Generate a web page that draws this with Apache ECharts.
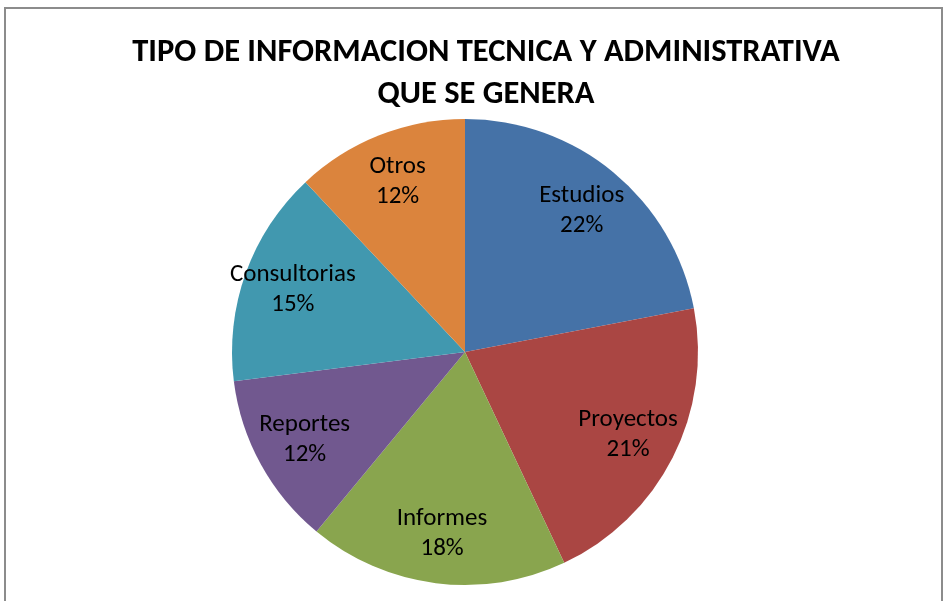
<!DOCTYPE html>
<html>
<head>
<meta charset="utf-8">
<script src="https://cdn.jsdelivr.net/npm/echarts@6/dist/echarts.min.js"></script>
<style>
  html, body { margin: 0; padding: 0; background: #fff; }
  #main { width: 943px; height: 601px; }
</style>
</head>
<body>
<div id="main"></div>
<script>
// tipos de informacion (orden de las rebanadas, en sentido horario desde arriba)
var categorias = ['Estudios', 'Proyectos', 'Informes', 'Reportes', 'Consultorias', 'Otros'];
var porcentajes = [22, 21, 18, 12, 15, 12];
var colores = ['#4572A7', '#AA4643', '#89A54E', '#71588F', '#4198AF', '#DB843D'];

var datos = categorias.map(function (c, i) {
  return { name: c, value: porcentajes[i], itemStyle: { color: colores[i] } };
});

var fuente = 'Carlito, "Liberation Sans Narrow", "Open Sans", sans-serif';

var myChart = echarts.init(document.getElementById('main'));
myChart.setOption({
  animation: false,
  title: {
    text: 'TIPO DE INFORMACION TECNICA Y ADMINISTRATIVA\nQUE SE GENERA',
    left: 481,
    textAlign: 'center',
    top: 27,
    textStyle: {
      fontFamily: fuente,
      fontWeight: 'bold',
      fontSize: 32.5,
      lineHeight: 42,
      color: '#000'
    }
  },
  graphic: [{
    type: 'rect',
    shape: { x: 5, y: 8, width: 937, height: 600 },
    style: { fill: 'none', stroke: '#8c8c8c', lineWidth: 2 },
    silent: true
  }],
  series: [
    {
      // rebanadas
      type: 'pie',
      center: [465, 352],
      radius: [0, 233],
      startAngle: 90,
      clockwise: true,
      label: { show: false },
      labelLine: { show: false },
      emphasis: { disabled: true },
      itemStyle: { borderWidth: 0 },
      data: datos
    },
    {
      // etiquetas: pie transparente para colocarlas a ~0.77 del radio
      type: 'pie',
      center: [465, 352],
      radius: [0, 360],
      startAngle: 90,
      clockwise: true,
      silent: true,
      z: 3,
      itemStyle: { color: 'rgba(0,0,0,0)', borderWidth: 0 },
      label: {
        show: true,
        position: 'inside',
        formatter: '{b}\n{d}%',
        fontFamily: fuente,
        fontSize: 25,
        lineHeight: 30,
        color: '#000'
      },
      labelLine: { show: false },
      data: categorias.map(function (c, i) { return { name: c, value: porcentajes[i] }; })
    }
  ]
});
</script>
</body>
</html>
